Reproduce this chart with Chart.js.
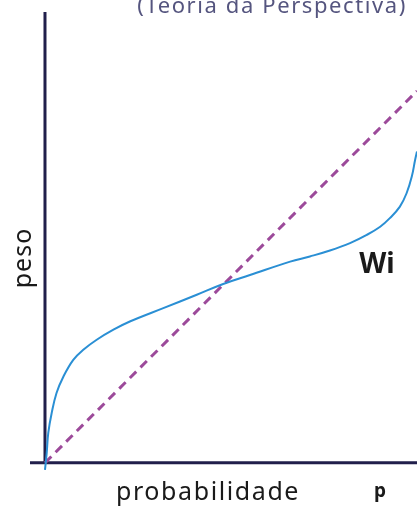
<!DOCTYPE html>
<html>
<head>
<meta charset="utf-8">
<script src="https://cdn.jsdelivr.net/npm/chart.js@4"></script>
<style>
	html, body { margin: 0; padding: 0; background: #fff; }
	#wrap { width: 417px; height: 506px; }
</style>
</head>
<body>
<div id="wrap"><canvas id="chart" width="417" height="506"></canvas></div>
<script>
// probability weighting (Wi)
const prob = [0, 0.0046, 0.0089, 0.018, 0.031, 0.049, 0.076, 0.103, 0.139, 0.184, 0.228, 0.318, 0.408, 0.479, 0.551, 0.659, 0.712, 0.766, 0.820, 0.865, 0.901, 0.927, 0.954, 0.972, 0.986, 0.995, 1.0];
const weight = [-0.019, 0.027, 0.081, 0.134, 0.188, 0.231, 0.277, 0.304, 0.331, 0.358, 0.380, 0.416, 0.452, 0.481, 0.505, 0.541, 0.555, 0.571, 0.591, 0.613, 0.635, 0.658, 0.689, 0.725, 0.770, 0.815, 0.837];
// reference line p = w
const diagX = [0, 1];
const diagY = [0, 1];

const labels = {
	title: '(Teoria da Perspectiva)',
	yTitle: 'peso',
	xTitle: 'probabilidade',
	xVar: 'p',
	curve: 'Wi'
};

const axesPlugin = {
	id: 'axes',
	beforeDatasetsDraw(chart) {
		const {ctx, chartArea, scales: {x, y}} = chart;
		const x0 = x.getPixelForValue(0);
		const y0 = y.getPixelForValue(0);
		ctx.save();
		ctx.strokeStyle = '#211f4b';
		ctx.lineWidth = 3;
		ctx.beginPath();
		ctx.moveTo(x0, chartArea.top);
		ctx.lineTo(x0, y0);
		ctx.moveTo(chartArea.left, y0);
		ctx.lineTo(chartArea.right, y0);
		ctx.stroke();
		ctx.restore();
	},
	afterDraw(chart) {
		const {ctx} = chart;
		ctx.save();
		ctx.textBaseline = 'alphabetic';

		ctx.fillStyle = '#55557f';
		ctx.font = '22px "Noto Sans"';
		ctx.letterSpacing = '1.6px';
		ctx.textAlign = 'right';
		ctx.fillText(labels.title, 407, 13);

		ctx.fillStyle = '#1a1a1a';
		ctx.font = '25px "Noto Sans"';
		ctx.letterSpacing = '1.6px';
		ctx.textAlign = 'center';
		ctx.fillText(labels.xTitle, 208, 500);

		ctx.save();
		ctx.translate(31, 258);
		ctx.rotate(-Math.PI / 2);
		ctx.letterSpacing = '1px';
		ctx.fillText(labels.yTitle, 0, 0);
		ctx.restore();

		ctx.letterSpacing = '0px';
		ctx.font = 'bold 19px "Noto Sans"';
		ctx.fillText(labels.xVar, 380, 497);

		ctx.font = 'bold 28px "Noto Sans"';
		ctx.fillText(labels.curve, 377, 273);
		ctx.restore();
	}
};

new Chart(document.getElementById('chart').getContext('2d'), {
	type: 'scatter',
	data: {
		datasets: [{
			data: prob.map((p, i) => ({x: p, y: weight[i]})),
			showLine: true,
			borderColor: '#2a8fd4',
			borderWidth: 2,
			pointRadius: 0,
			tension: 0.4
		}, {
			data: diagX.map((p, i) => ({x: p, y: diagY[i]})),
			showLine: true,
			borderColor: '#9c4a9a',
			borderWidth: 3,
			borderDash: [9, 6],
			pointRadius: 0
		}]
	},
	options: {
		responsive: false,
		animation: false,
		layout: {padding: {left: 30, right: 0, top: 12, bottom: 32}},
		plugins: {legend: {display: false}, tooltip: {enabled: false}},
		scales: {
			x: {type: 'linear', min: -0.0403, max: 1, display: false},
			y: {type: 'linear', min: -0.03, max: 1.2124, display: false}
		}
	},
	plugins: [axesPlugin]
});
</script>
</body>
</html>
